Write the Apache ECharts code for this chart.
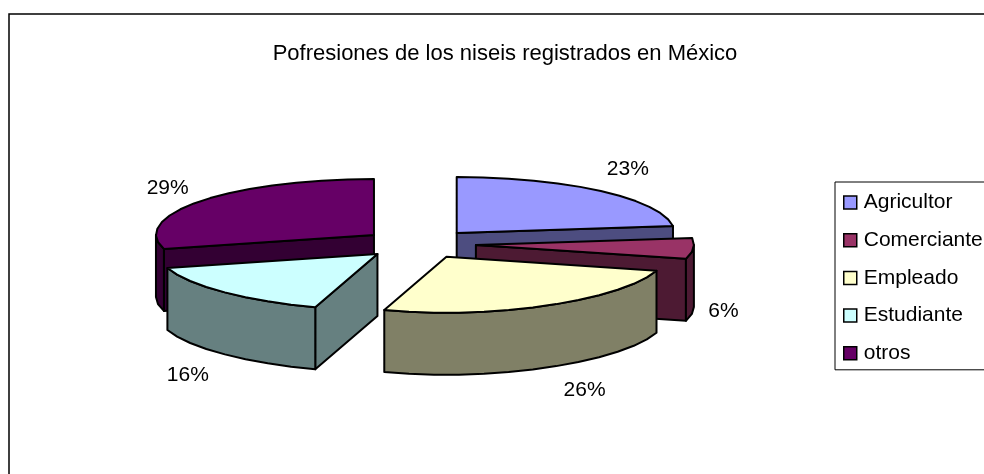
<!DOCTYPE html>
<html>
<head>
<meta charset="utf-8">
<title>Pofresiones</title>
<style>
html, body { margin: 0; padding: 0; background: #fff; }
#chart { width: 984px; height: 474px; }
</style>
<script src="https://cdn.jsdelivr.net/npm/echarts@6/dist/echarts.min.js"></script>
</head>
<body>
<div id="chart"></div>
<script>
const titleText = 'Pofresiones de los niseis registrados en México';
const categories = ['Agricultor', 'Comerciante', 'Empleado', 'Estudiante', 'otros'];
const values = [23, 6, 26, 16, 29];
const topColors = ['#9999FF', '#993366', '#FFFFCC', '#CCFFFF', '#660066'];
const sideColors = ['#4D4D80', '#4D1A33', '#808066', '#668080', '#330033'];

// back to front, so nearer slices paint over farther ones
const drawOrder = [4, 0, 1, 3, 2];
// label shift from the rim point at mid angle
const labelShift = [[27, -22], [30, 63], [40, 84], [-37, 83], [-34, -12]];

// pie geometry
const centerX = 419;
const centerY = 244;
const radiusX = 218;
const radiusY = 56;
const depth = 62;
const explode = 57;
const perspective = 0.085;
const fontName = '"Liberation Sans", Arial, sans-serif';

const total = values.reduce((sum, v) => sum + v, 0);

// Slice angles in degrees, clockwise from 12 o'clock
function sliceAngles(index) {
    const before = values.slice(0, index).reduce((sum, v) => sum + v, 0);
    return [before / total * 360, (before + values[index]) / total * 360];
}

function rad(deg) {
    return deg * Math.PI / 180;
}

function rimPoint(apex, deg, drop) {
    const cos = Math.cos(rad(deg));
    // the front of the pie narrows a little, as in the original 3D view
    const narrow = cos < 0 ? 1 - perspective * cos * cos : 1;
    return [
        apex[0] + radiusX * narrow * Math.sin(rad(deg)),
        apex[1] - radiusY * cos + drop
    ];
}

function arcPoints(apex, from, to, drop) {
    const points = [];
    const steps = Math.max(1, Math.round((to - from) / 7));
    for (let i = 0; i <= steps; i++) {
        points.push(rimPoint(apex, from + (to - from) * i / steps, drop));
    }
    return points;
}

function face(points, fill) {
    return {
        type: 'polygon',
        shape: { points: points },
        style: { fill: fill, stroke: '#000', lineWidth: 2, lineJoin: 'round' }
    };
}

function cutFace(apex, deg, fill) {
    return face([
        apex,
        rimPoint(apex, deg, 0),
        rimPoint(apex, deg, depth),
        [apex[0], apex[1] + depth]
    ], fill);
}

function renderSlice(index) {
    const [start, end] = sliceAngles(index);
    const mid = (start + end) / 2;
    const apex = [
        centerX + explode * Math.sin(rad(mid)),
        centerY - explode * radiusY / radiusX * Math.cos(rad(mid))
    ];
    const children = [];

    // Flat cut faces, only the ones turned towards the viewer
    if (Math.sin(rad(start)) < -0.001) {
        children.push(cutFace(apex, start, sideColors[index]));
    }
    if (Math.sin(rad(end)) > 0.001) {
        children.push(cutFace(apex, end, sideColors[index]));
    }

    // Outer wall, only where the rim faces the viewer
    const wallFrom = Math.max(start, 90);
    const wallTo = Math.min(end, 270);
    if (wallTo > wallFrom) {
        children.push(face(
            arcPoints(apex, wallFrom, wallTo, 0).concat(arcPoints(apex, wallFrom, wallTo, depth).reverse()),
            sideColors[index]
        ));
    }

    children.push(face([apex].concat(arcPoints(apex, start, end, 0)), topColors[index]));

    const anchor = rimPoint(apex, mid, 0);
    children.push({
        type: 'text',
        style: {
            x: anchor[0] + labelShift[index][0],
            y: anchor[1] + labelShift[index][1],
            text: values[index] + '%',
            fill: '#000',
            font: '21px ' + fontName,
            align: 'center',
            verticalAlign: 'middle'
        }
    });

    return { type: 'group', children: children };
}

const chart = echarts.init(document.getElementById('chart'));

chart.setOption({
    animation: false,
    backgroundColor: '#fff',
    title: {
        text: titleText,
        left: 500,
        top: 38,
        textAlign: 'center',
        textStyle: { fontFamily: fontName, fontSize: 22, fontWeight: 'normal', color: '#000' }
    },
    legend: {
        orient: 'vertical',
        left: 835,
        top: 182,
        padding: [10, 10, 6, 8],
        itemGap: 16.7,
        itemWidth: 13,
        itemHeight: 13,
        selectedMode: false,
        data: categories.map(name => ({ name: name, icon: 'rect' })),
        itemStyle: { borderColor: '#000', borderWidth: 1.5 },
        textStyle: { fontFamily: fontName, fontSize: 21, color: '#000', lineHeight: 20, padding: [0, 0, 0, 2] },
        borderColor: '#000',
        borderWidth: 1,
        backgroundColor: '#fff'
    },
    graphic: [{
        type: 'rect',
        silent: true,
        z: -1,
        shape: { x: 9, y: 14, width: 1000, height: 500 },
        style: { fill: '#fff', stroke: '#000', lineWidth: 1.5 }
    }],
    series: drawOrder.map(index => ({
        type: 'custom',
        name: categories[index],
        coordinateSystem: 'none',
        silent: true,
        itemStyle: { color: topColors[index] },
        data: [values[index]],
        renderItem: () => renderSlice(index)
    }))
});
</script>
</body>
</html>
